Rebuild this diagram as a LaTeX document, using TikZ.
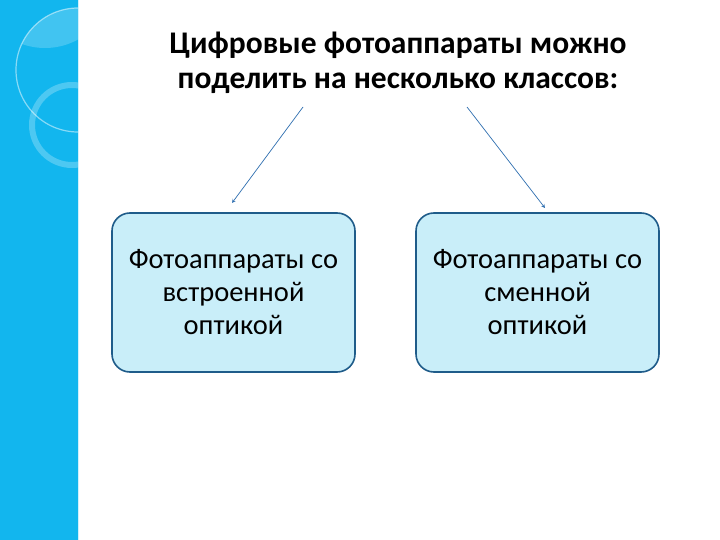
\documentclass[tikz,border=0pt]{standalone}
\usepackage{fontspec}
\setmainfont{Carlito}
\definecolor{band}{HTML}{12B6EE}
\definecolor{boxfill}{HTML}{C9EEF9}
\definecolor{boxline}{HTML}{1F5C8A}
\definecolor{arr}{HTML}{2F6FB0}
\begin{document}
\begin{tikzpicture}[x=1pt,y=-1pt,
  cbox/.style={draw=boxline,line width=1.6pt,fill=boxfill,rounded corners=18pt,minimum width=243pt,minimum height=159pt,align=center,font=\fontsize{28.5}{33}\selectfont},
  conn/.style={draw=arr,line width=0.7pt,-stealth}]
\useasboundingbox (0,0) rectangle (720,540);
\fill[white] (0,0) rectangle (720,540);
\begin{scope}
\clip (0,0) rectangle (78,540);
\fill[band] (0,0) rectangle (78,540);
\begin{scope}
\clip (78,70) circle (62);
\fill[white,opacity=0.2] (45,-20) circle (68);
\end{scope}
\draw[white,opacity=0.5,line width=1.2pt] (78,70) circle (62);
\draw[white,opacity=0.25,line width=6pt] (72,125) circle (40);
\end{scope}
\draw[white!80!band,line width=0.8pt] (78,0) -- (78,540);
\node[font=\bfseries\fontsize{31.5}{35}\selectfont,align=center] (t) at (398,63) {Цифровые фотоаппараты можно\\поделить на несколько классов:};
\node[cbox] (a) at (233.5,292.5) {Фотоаппараты со\\встроенной\\оптикой};
\node[cbox] (b) at (537.5,292.5) {Фотоаппараты со\\сменной\\оптикой};
\coordinate (s1) at (303,107);
\coordinate (s2) at (467,107);
\coordinate (e1) at (232,203);
\coordinate (e2) at (545,208);
\draw[conn] (s1) -- (e1);
\draw[conn] (s2) -- (e2);
\end{tikzpicture}
\end{document}
